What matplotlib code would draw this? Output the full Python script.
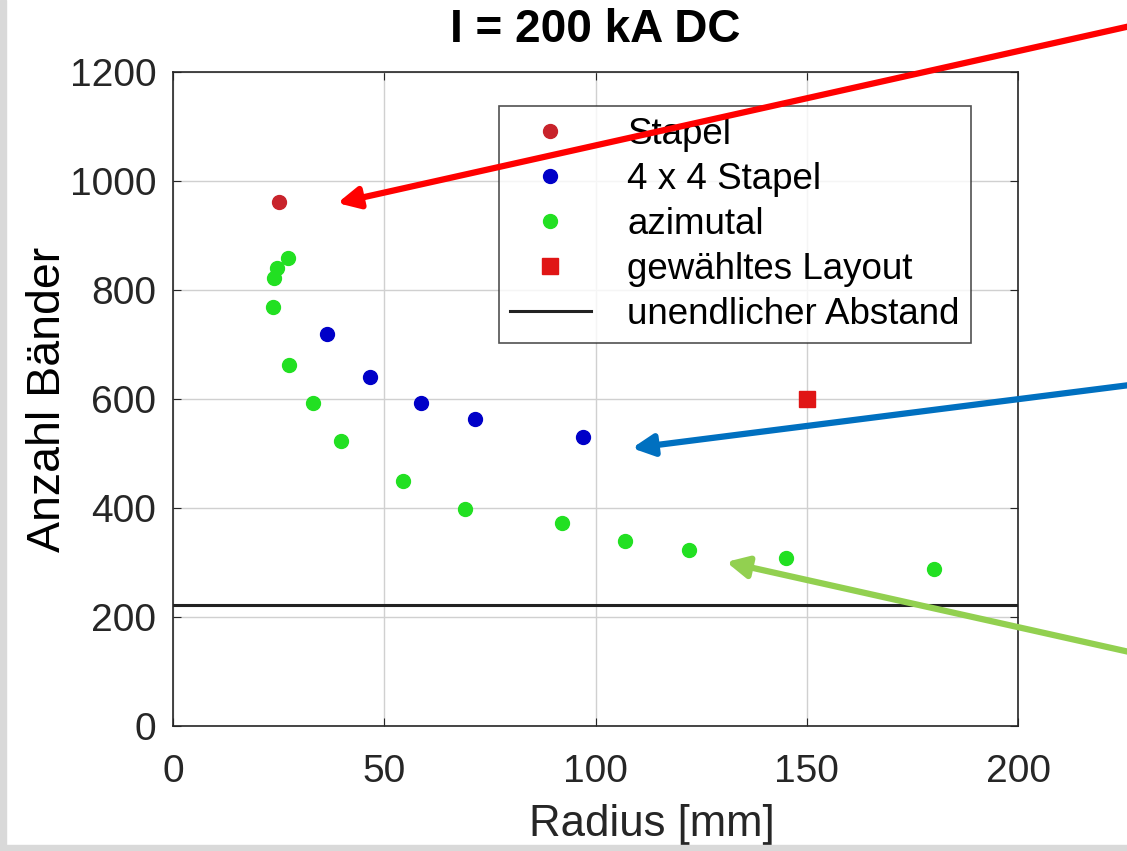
import numpy as np
import matplotlib.pyplot as plt
from matplotlib.patches import Rectangle

plt.rcParams['font.family'] = ['Liberation Sans', 'DejaVu Sans']

# Daten
stapel_r = [25]
stapel_n = [962]
stapel4_r = [36.5, 46.5, 58.7, 71.5, 97]
stapel4_n = [720, 640, 593, 563, 530]
azim_r = [27.1, 24.5, 24.0, 23.6, 27.5, 33.2, 39.8, 54.5, 69.2, 92, 107, 122, 145, 180]
azim_n = [860, 840, 822, 769, 662, 593, 523, 450, 398, 372, 339, 323, 308, 288]
layout_r = [150]
layout_n = [600]
abstand_n = 222

fig = plt.figure(figsize=(11.27, 8.51), dpi=100)
ax = fig.add_axes([0.1535, 0.147, 0.75, 0.768])

ax.plot(stapel_r, stapel_n, 'o', color='#c8232b', ms=10, label='Stapel')
ax.plot(stapel4_r, stapel4_n, 'o', color='#0000c8', ms=10, label='4 x 4 Stapel')
ax.plot(azim_r, azim_n, 'o', color='#22e022', ms=10, label='azimutal')
ax.plot(layout_r, layout_n, 's', color='#e01515', ms=11.5, label='gewähltes Layout')
ax.axhline(abstand_n, color='#222222', lw=2.2, label='unendlicher Abstand')

ax.set_xlim(0, 200)
ax.set_ylim(0, 1200)
ax.set_xticks([0, 50, 100, 150, 200])
ax.set_yticks(np.arange(0, 1201, 200))
ax.grid(True, color='#d0d0d0', lw=1)
ax.set_axisbelow(True)
ax.tick_params(direction='in', top=True, right=True, labelsize=28,
               colors='#262626', length=6)
ax.tick_params(axis='x', pad=20)
ax.tick_params(axis='y', pad=12)
for s in ax.spines.values():
    s.set_color('#262626')
    s.set_linewidth(1.2)

ax.set_xlabel('Radius [mm]', fontsize=31.5, color='#262626', labelpad=10, x=0.566)
ax.set_ylabel('Anzahl Bänder', fontsize=33.5, color='black', labelpad=0)
ax.set_title('I = 200 kA DC', fontsize=33, fontweight='bold', pad=22)

leg = ax.legend(loc='upper right', bbox_to_anchor=(0.944, 0.948), fontsize=26.5,
                frameon=True, fancybox=False, edgecolor='#262626',
                handlelength=2.2, handletextpad=1.0, labelspacing=0.27,
                borderpad=0.3, borderaxespad=0)
leg.get_frame().set_linewidth(1.2)

# Pfeile von rechts
pfeile = [((38.9, 960), (1.005, 0.970), '#ff0000'),
          ((108.6, 510), (1.005, 0.548), '#0070c0'),
          ((130.9, 301), (1.005, 0.233), '#92d050')]
for ziel, start, farbe in pfeile:
    ax.annotate('', xy=ziel, xycoords='data', xytext=start, textcoords='figure fraction',
                arrowprops=dict(arrowstyle='-|>', color=farbe, lw=4.5,
                                mutation_scale=32, shrinkA=0, shrinkB=0),
                annotation_clip=False, zorder=10)

# grauer Rand
fig.patches.append(Rectangle((0, 0), 0.005, 1, transform=fig.transFigure, color='#d9d9d9'))
fig.patches.append(Rectangle((0, 0), 1, 0.007, transform=fig.transFigure, color='#d9d9d9'))

fig.savefig('out.png', dpi=100)
